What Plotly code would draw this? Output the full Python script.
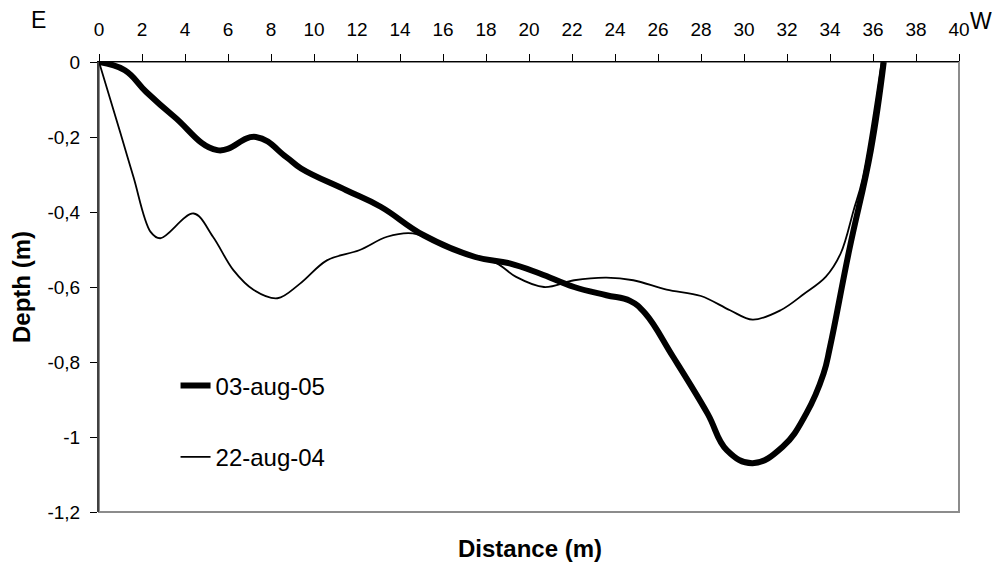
import plotly.graph_objects as go

# 03-aug-05 cross-section (thick line)
dist_2005 = [0, 1.2, 2.2, 3.5, 5.5, 7.3, 8.7, 9.4, 11.5, 13.1, 15.1, 17.5, 19.1, 20.5,
             22.1, 23.6, 24.7, 25.4, 26.7, 28.3, 29.2, 30.4, 31.8, 32.9, 33.7, 34.0,
             34.9, 35.9, 36.5]
depth_2005 = [0, -0.022, -0.08, -0.146, -0.235, -0.2, -0.253, -0.284, -0.342, -0.386,
              -0.462, -0.52, -0.537, -0.564, -0.6, -0.622, -0.637, -0.67, -0.786,
              -0.937, -1.035, -1.07, -1.026, -0.937, -0.831, -0.76, -0.5, -0.235, 0]

# 22-aug-04 cross-section (thin line)
dist_2004 = [0, 1.0, 1.6, 2.4, 2.85, 4.4, 5.3, 6.25, 7.2, 8.3, 9.35, 10.6, 12.1, 13.4, 14.6,
             16.0, 17.5, 18.5, 19.4, 20.7, 22.1, 23.6, 24.85, 26.4, 28.0, 29.35, 30.4, 31.7,
             32.8, 33.8, 34.5, 35.1, 35.5, 36.4]
depth_2004 = [0, -0.19, -0.306, -0.453, -0.47, -0.404, -0.466, -0.555, -0.608, -0.63, -0.591,
              -0.529, -0.502, -0.466, -0.457, -0.49, -0.52, -0.537, -0.573, -0.6, -0.582,
              -0.575, -0.582, -0.607, -0.624, -0.662, -0.687, -0.662, -0.618, -0.573, -0.51,
              -0.395, -0.315, 0]

x_ticks = list(range(0, 41, 2))
y_tickvals = [0, -0.2, -0.4, -0.6, -0.8, -1.0, -1.2]
y_ticktext = ["0", "-0,2", "-0,4", "-0,6", "-0,8", "-1", "-1,2"]

FONT = "Liberation Sans, Arial, sans-serif"

fig = go.Figure()
fig.add_trace(go.Scatter(x=dist_2005, y=depth_2005, mode="lines", name="03-aug-05",
                         line=dict(color="black", width=6, shape="spline", smoothing=1.2),
                         legendgroup="a"))
fig.add_trace(go.Scatter(x=dist_2004, y=depth_2004, mode="lines", name="22-aug-04",
                         line=dict(color="black", width=1.8, shape="spline", smoothing=1.0),
                         legendgroup="b"))

fig.update_layout(
    width=995, height=569,
    margin=dict(l=99, r=36, t=62, b=57),
    paper_bgcolor="white", plot_bgcolor="white",
    font=dict(family=FONT, color="black", size=19),
    showlegend=True,
    legend=dict(x=0.089, y=0.33, xanchor="left", yanchor="top",
                bgcolor="rgba(0,0,0,0)", font=dict(size=24, family=FONT),
                tracegroupgap=37, traceorder="grouped"),
    shapes=[dict(type="rect", xref="paper", yref="paper", x0=0, x1=1, y0=0, y1=1,
                 line=dict(color="#8c8c8c", width=2), layer="below")],
)

fig.update_xaxes(
    range=[0, 40], side="top", tickvals=x_ticks, ticktext=[str(v) for v in x_ticks],
    showgrid=False, zeroline=False, showline=True, linecolor="black", linewidth=1.2,
    ticks="outside", ticklen=7, tickcolor="black", tickwidth=1,
    tickfont=dict(size=19, family=FONT), ticklabelstandoff=10,
)
fig.update_yaxes(
    range=[-1.2, 0], tickvals=y_tickvals, ticktext=y_ticktext,
    showgrid=False, zeroline=False, showline=True, linecolor="#404040", linewidth=2,
    ticks="outside", ticklen=7, tickcolor="black", tickwidth=1,
    tickfont=dict(size=19, family=FONT), ticklabelstandoff=6,
    title=dict(text="<b>Depth (m)</b>", font=dict(size=24, family=FONT), standoff=10),
)

fig.add_annotation(text="<b>Distance (m)</b>", xref="paper", yref="paper",
                   x=0.501, y=-0.08, xanchor="center", yanchor="middle",
                   showarrow=False, font=dict(size=24, family=FONT))
fig.add_annotation(text="E", xref="paper", yref="paper", x=-0.0698, y=1.093,
                   xanchor="center", yanchor="middle", showarrow=False,
                   font=dict(size=23, family=FONT))
fig.add_annotation(text="W", xref="paper", yref="paper", x=1.0256, y=1.091,
                   xanchor="center", yanchor="middle", showarrow=False,
                   font=dict(size=23, family=FONT))

fig.write_html("out.html", config={"displayModeBar": False},
               post_script="document.body.style.margin='0';")
